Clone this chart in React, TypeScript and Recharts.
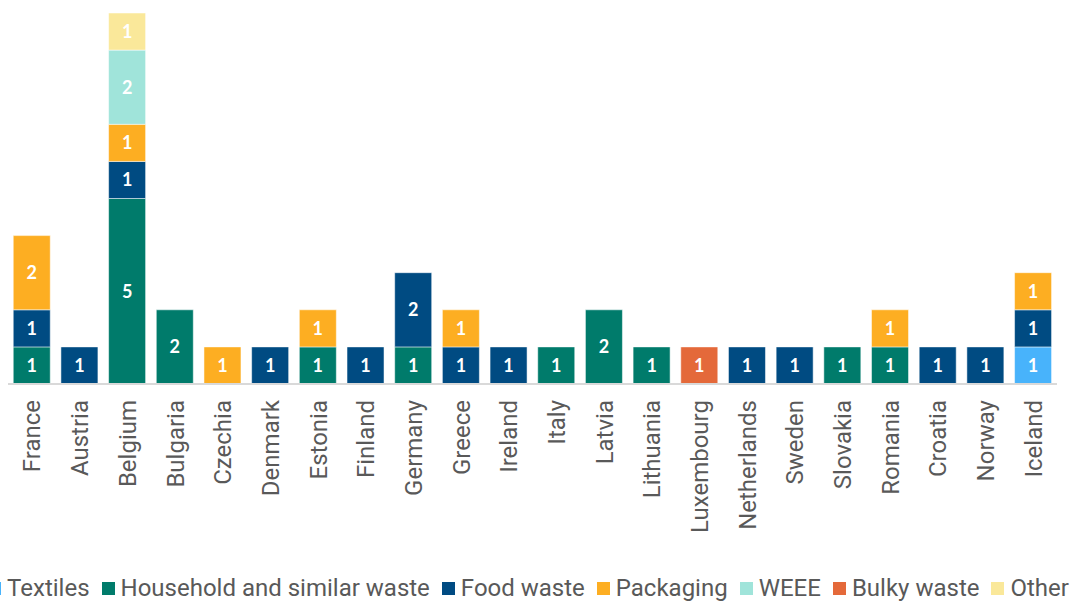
import { Bar, BarChart, XAxis, YAxis, Legend, LabelList } from "recharts";

const countries = [
  "France", "Austria", "Belgium", "Bulgaria", "Czechia", "Denmark", "Estonia", "Finland",
  "Germany", "Greece", "Ireland", "Italy", "Latvia", "Lithuania", "Luxembourg", "Netherlands",
  "Sweden", "Slovakia", "Romania", "Croatia", "Norway", "Iceland",
];

const textiles = [0, 0, 0, 0, 0, 0, 0, 0, 0, 0, 0, 0, 0, 0, 0, 0, 0, 0, 0, 0, 0, 1];
const household = [1, 0, 5, 2, 0, 0, 1, 0, 1, 0, 0, 1, 2, 1, 0, 0, 0, 1, 1, 0, 0, 0];
const food = [1, 1, 1, 0, 0, 1, 0, 1, 2, 1, 1, 0, 0, 0, 0, 1, 1, 0, 0, 1, 1, 1];
const packaging = [2, 0, 1, 0, 1, 0, 1, 0, 0, 1, 0, 0, 0, 0, 0, 0, 0, 0, 1, 0, 0, 1];
const weee = [0, 0, 2, 0, 0, 0, 0, 0, 0, 0, 0, 0, 0, 0, 0, 0, 0, 0, 0, 0, 0, 0];
const bulky = [0, 0, 0, 0, 0, 0, 0, 0, 0, 0, 0, 0, 0, 0, 1, 0, 0, 0, 0, 0, 0, 0];
const other = [0, 0, 1, 0, 0, 0, 0, 0, 0, 0, 0, 0, 0, 0, 0, 0, 0, 0, 0, 0, 0, 0];

const series = [
  { key: "textiles", name: "Textiles", values: textiles, color: "#48B3FB" },
  { key: "household", name: "Household and similar waste", values: household, color: "#007B6B" },
  { key: "food", name: "Food waste", values: food, color: "#004B82" },
  { key: "packaging", name: "Packaging", values: packaging, color: "#FDAE22" },
  { key: "weee", name: "WEEE", values: weee, color: "#A0E4DA" },
  { key: "bulky", name: "Bulky waste", values: bulky, color: "#E4693A" },
  { key: "other", name: "Other", values: other, color: "#FAE89A" },
];

const data = countries.map((country, i) => {
  const row: Record<string, string | number | null> = { country };
  series.forEach(s => {
    row[s.key] = s.values[i] ? s.values[i] : null;
  });
  return row;
});

const CountryTick = (props: any) => {
  const { x, y, payload } = props;
  const ty = y + 8;
  return (
    <text
      x={x}
      y={ty}
      transform={`rotate(-90, ${x}, ${ty})`}
      textAnchor="end"
      dy="0.36em"
      fontFamily="Roboto"
      fontSize={24}
      fill="#595959"
    >
      {payload.value}
    </text>
  );
};

const LegendContent = () => (
  <div
    style={{
      display: "flex",
      justifyContent: "center",
      alignItems: "center",
      height: 40,
      paddingTop: 14,
      boxSizing: "border-box",
      whiteSpace: "nowrap",
      fontFamily: "Roboto",
      fontSize: 24,
      color: "#595959",
    }}
  >
    {series.map(s => (
      <span key={s.key} style={{ display: "inline-flex", alignItems: "center", marginRight: 12 }}>
        <span style={{ width: 13, height: 13, background: s.color, display: "inline-block", marginRight: 6 }} />
        {s.name}
      </span>
    ))}
  </div>
);

export default function App() {
  return (
    <div style={{ position: "absolute", left: 0, top: 0 }}>
      <BarChart
        width={1073}
        height={601}
        data={data}
        margin={{ top: 13, right: 16, left: 8, bottom: 0 }}
        barCategoryGap="11%"
      >
        <XAxis
          dataKey="country"
          interval={0}
          tickLine={false}
          axisLine={{ stroke: "#D9D9D9", strokeWidth: 2 }}
          tick={<CountryTick />}
          height={177}
        />
        <YAxis hide domain={[0, 10]} />
        <Legend
          verticalAlign="bottom"
          height={40}
          content={<LegendContent />}
          wrapperStyle={{ left: -14, width: 1097 }}
        />
        {series.map(s => (
          <Bar
            key={s.key}
            dataKey={s.key}
            name={s.name}
            stackId="a"
            fill={s.color}
            stroke="rgba(255,255,255,0.5)"
            strokeWidth={1}
            isAnimationActive={false}
          >
            <LabelList
              dataKey={s.key}
              position="center"
              fill="#FFFFFF"
              fontFamily="Lato"
              fontWeight={700}
              fontSize={18}
            />
          </Bar>
        ))}
      </BarChart>
    </div>
  );
}
